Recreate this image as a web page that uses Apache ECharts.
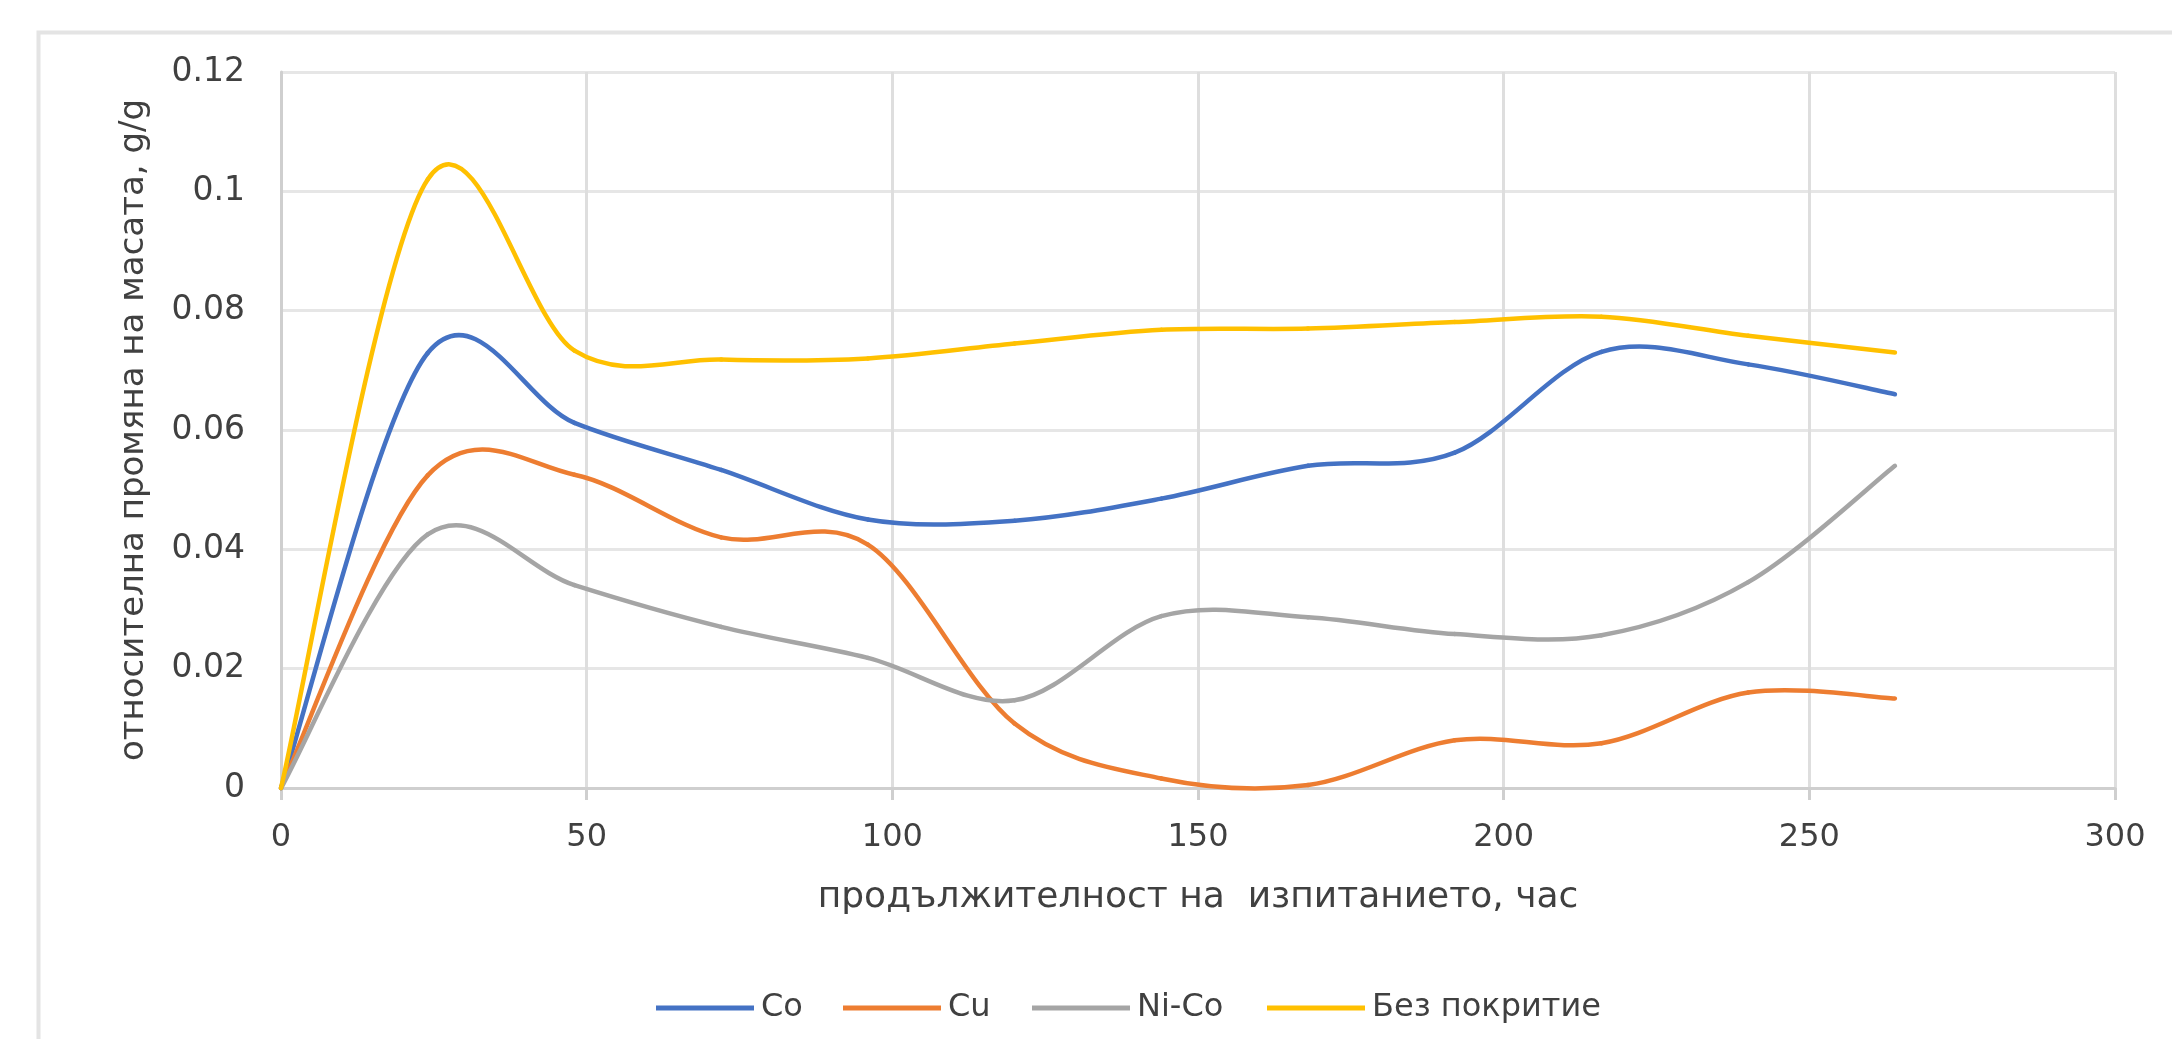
<!DOCTYPE html>
<html>
<head>
<meta charset="utf-8">
<script src="https://cdn.jsdelivr.net/npm/echarts@6/dist/echarts.min.js"></script>
<style>
html,body{margin:0;padding:0;background:#fff;}
#chart{width:2172px;height:1039px;}
</style>
</head>
<body>
<div id="chart"></div>
<script>
// ---- data ----
const hours = [0, 24, 48, 72, 96, 120, 144, 168, 192, 216, 240, 264];
const seriesNames = ['Co', 'Cu', 'Ni-Co', 'Без покритие'];
const coValues   = [0, 0.0729, 0.0612, 0.0533, 0.0450, 0.0448, 0.0485, 0.0540, 0.0562, 0.0731, 0.0710, 0.0660];
const cuValues   = [0, 0.0524, 0.0525, 0.0420, 0.0408, 0.0108, 0.0016, 0.0005, 0.0080, 0.0075, 0.0160, 0.0150];
const niCoValues = [0, 0.0425, 0.0340, 0.0270, 0.0218, 0.0147, 0.0288, 0.0286, 0.0258, 0.0256, 0.0345, 0.0540];
const bareValues = [0, 0.1020, 0.0733, 0.0718, 0.0720, 0.0745, 0.0768, 0.0770, 0.0781, 0.0790, 0.0758, 0.0730];
const colors = ['#4472C4', '#ED7D31', '#A5A5A5', '#FFC000'];
const xAxisTitle = 'продължителност на  изпитанието, час';
const yAxisTitle = 'относителна промяна на масата, g/g';
const legendLeft = [656, 843, 1032, 1267];

const allValues = [coValues, cuValues, niCoValues, bareValues];
const FONT = 'DejaVu Sans';
const TXT = '#404040';

// Excel-like smoothed line (Catmull-Rom bezier) drawn through the axis scales
function smoothRenderer(values, color) {
  return function (params, api) {
    if (params.dataIndex !== 0) return null;
    const p = hours.map((h, k) => api.coord([h, values[k]]));
    const n = p.length;
    const children = [];
    for (let i = 0; i < n - 1; i++) {
      const p0 = p[Math.max(i - 1, 0)], p1 = p[i], p2 = p[i + 1], p3 = p[Math.min(i + 2, n - 1)];
      children.push({
        type: 'bezierCurve',
        shape: {
          x1: p1[0], y1: p1[1], x2: p2[0], y2: p2[1],
          cpx1: p1[0] + (p2[0] - p0[0]) / 6, cpy1: p1[1] + (p2[1] - p0[1]) / 6,
          cpx2: p2[0] - (p3[0] - p1[0]) / 6, cpy2: p2[1] - (p3[1] - p1[1]) / 6
        },
        style: {stroke: color, fill: null, lineWidth: 4.5, lineCap: 'round', lineJoin: 'round'}
      });
    }
    return {type: 'group', children: children};
  };
}

const chart = echarts.init(document.getElementById('chart'), null, {renderer: 'canvas'});
chart.setOption({
  animation: false,
  backgroundColor: '#ffffff',
  graphic: [{
    type: 'rect', left: 36, top: 30, z: -10,
    shape: {x: 0, y: 0, width: 2200, height: 1100},
    style: {fill: 'none', stroke: '#e4e4e4', lineWidth: 4}
  }],
  grid: {left: 281, right: 57, top: 72, bottom: 251, containLabel: false},
  xAxis: {
    type: 'value', min: 0, max: 300, interval: 50,
    name: xAxisTitle, nameLocation: 'middle', nameGap: 92,
    nameTextStyle: {fontFamily: FONT, fontSize: 36, color: TXT},
    axisLine: {show: true, lineStyle: {color: '#cfcfcf', width: 3}},
    axisTick: {show: true, length: 12, lineStyle: {color: '#cfcfcf', width: 3}},
    axisLabel: {fontFamily: FONT, fontSize: 32, color: TXT, margin: 34},
    splitLine: {show: true, lineStyle: {color: '#dedede', width: 3}}
  },
  yAxis: {
    type: 'value', min: 0, max: 0.12, interval: 0.02,
    name: yAxisTitle, nameLocation: 'middle', nameGap: 130, nameRotate: 90,
    nameTextStyle: {fontFamily: FONT, fontSize: 34, color: TXT},
    axisLine: {show: true, lineStyle: {color: '#cfcfcf', width: 3}},
    axisTick: {show: false},
    axisLabel: {fontFamily: FONT, fontSize: 33, color: TXT, margin: 36},
    splitLine: {show: true, lineStyle: {color: '#e6e6e6', width: 3}}
  },
  legend: seriesNames.map((n, i) => ({
    left: legendLeft[i], top: 992, padding: 0,
    itemWidth: 98, itemHeight: 5,
    icon: 'path://M0,0 L98,0 L98,5 L0,5 Z',
    textStyle: {fontFamily: FONT, fontSize: 32, color: TXT, padding: [0, 0, 0, 2]},
    data: [n]
  })),
  series: seriesNames.map((n, i) => ({
    name: n, type: 'custom', coordinateSystem: 'cartesian2d', clip: false,
    itemStyle: {color: colors[i]},
    encode: {x: 0, y: 1},
    renderItem: smoothRenderer(allValues[i], colors[i]),
    data: hours.map((h, k) => [h, allValues[i][k]])
  }))
});
</script>
</body>
</html>
